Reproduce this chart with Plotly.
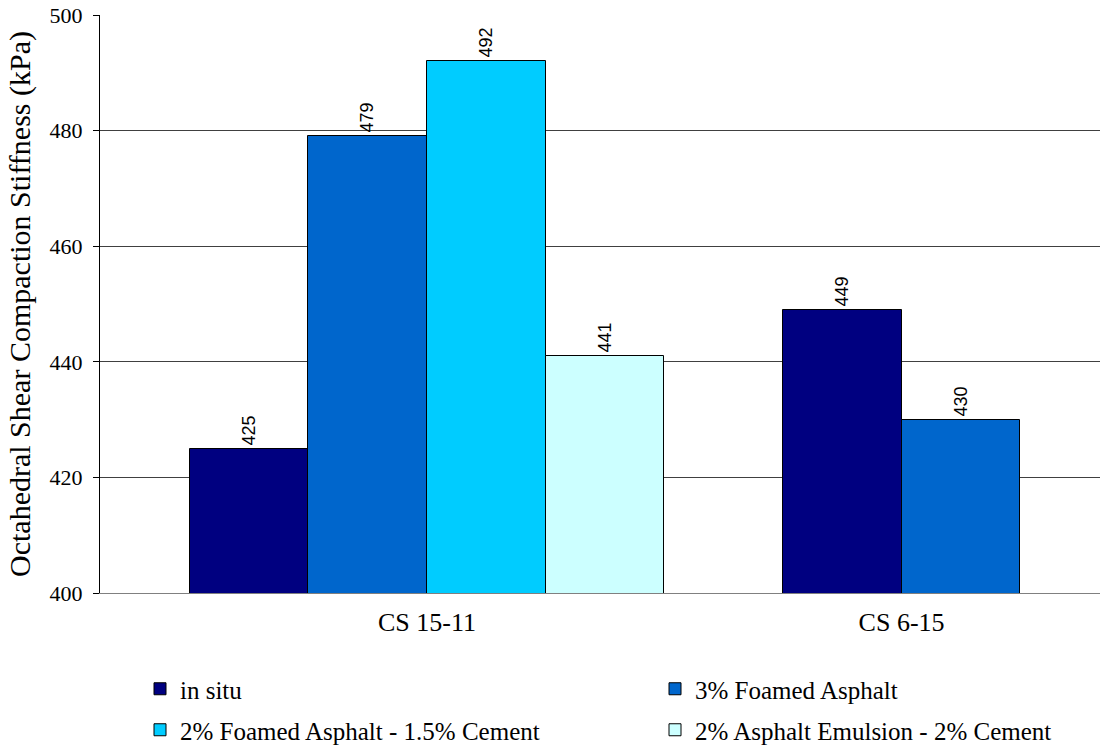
import plotly.graph_objects as go

# Data
categories = ["CS 15-11", "CS 6-15"]
series_names = [
    "in situ",
    "3% Foamed Asphalt",
    "2% Foamed Asphalt - 1.5% Cement",
    "2% Asphalt Emulsion - 2% Cement",
]
# values per series, one entry per category (None = not tested)
in_situ = [425, 449]
foamed_3 = [479, 430]
foamed_2_cement = [492, None]
emulsion_cement = [441, None]
series_values = [in_situ, foamed_3, foamed_2_cement, emulsion_cement]

colors = ["#000080", "#0066CC", "#00CCFF", "#CCFFFF"]

SERIF = "Times New Roman, Liberation Serif, DejaVu Serif, serif"
SANS = "Arial, Liberation Sans, DejaVu Sans, sans-serif"

# Layout of the category slots: each bar is one unit wide, categories
# spaced four units apart, bars in each category centred on its tick.
slot = 4.0
centers = [i * slot for i in range(len(categories))]

# Legend entries sit in a 2 x 2 grid below the plot (pixels in the page)
legend_ids = ["legend", "legend2", "legend3", "legend4"]
legend_cols = [140, 655]
legend_rows = [689, 730]

fig = go.Figure()
for s, (name, vals) in enumerate(zip(series_names, series_values)):
    xs, ys = [], []
    for c, v in enumerate(vals):
        if v is None:
            continue
        present = [k for k in range(len(series_values)) if series_values[k][c] is not None]
        pos = present.index(s)
        offset = pos - (len(present) - 1) / 2
        xs.append(centers[c] + offset)
        ys.append(v)
    fig.add_trace(go.Bar(
        x=xs, y=ys, name=name, width=1.0,
        marker=dict(color=colors[s], line=dict(color="#000000", width=1)),
        text=[str(v) for v in ys], textposition="outside", textangle=-90,
        constraintext="none", cliponaxis=False,
        textfont=dict(family=SANS, size=18, color="#000000"),
        legend=legend_ids[s],
    ))

W, H = 1101, 748
legends = {}
for s, lid in enumerate(legend_ids):
    legends[lid] = dict(
        orientation="h", xref="container", yref="container",
        x=legend_cols[s % 2] / W, y=1 - legend_rows[s // 2] / H,
        xanchor="left", yanchor="middle",
        font=dict(family=SERIF, size=25, color="#000000"), itemwidth=30,
        bgcolor="rgba(0,0,0,0)",
    )

fig.update_layout(
    width=W, height=H,
    margin=dict(l=100, r=1, t=15, b=155, autoexpand=False),
    plot_bgcolor="#FFFFFF", paper_bgcolor="#FFFFFF",
    font=dict(family=SERIF, size=20, color="#000000"),
    showlegend=True,
    bargap=0,
    **legends,
    xaxis=dict(
        range=[-2.755, slot + 1.672],
        tickmode="array", tickvals=centers, ticktext=categories,
        showgrid=False, zeroline=False, ticks="",
        showline=True, linecolor="#808080", linewidth=1,
        tickfont=dict(family=SERIF, size=26), ticklabelstandoff=6,
    ),
    yaxis=dict(
        range=[400, 500], dtick=20, tick0=400,
        showgrid=True, gridcolor="#404040", gridwidth=1,
        zeroline=False, showline=True, linecolor="#000000", linewidth=1,
        ticks="outside", ticklen=6, tickcolor="#000000",
        tickfont=dict(family=SERIF, size=22), ticklabelstandoff=6,
        title=dict(text="Octahedral Shear Compaction Stiffness (kPa)",
                   font=dict(family=SERIF, size=30), standoff=10),
    ),
)

fig.write_html("out.html")
